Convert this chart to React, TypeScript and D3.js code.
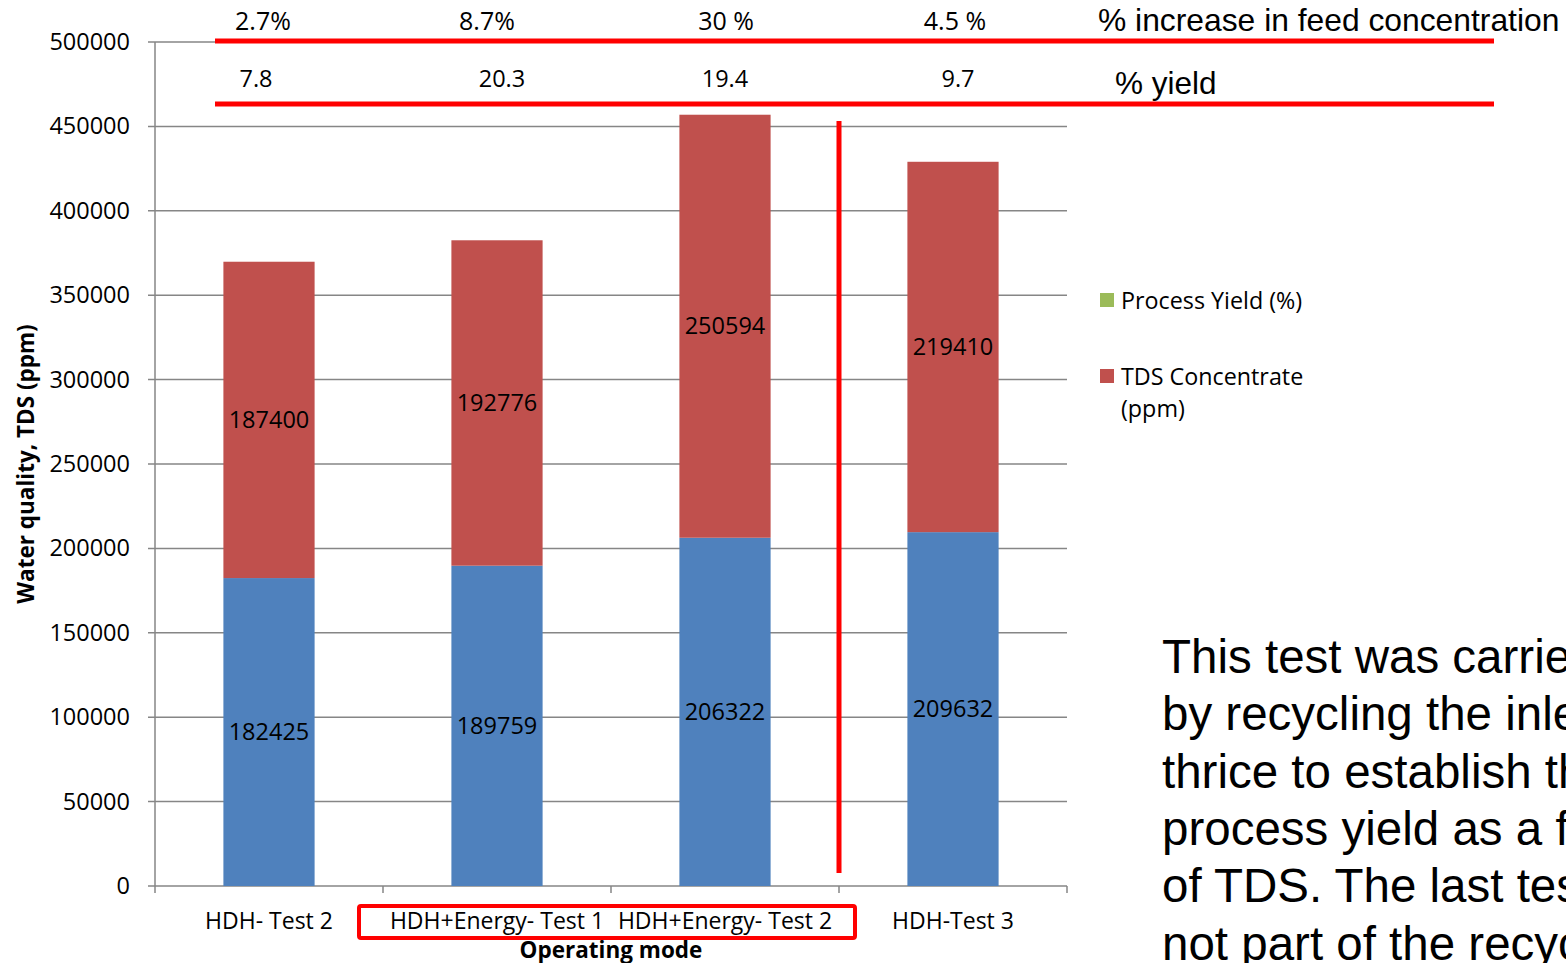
import React from 'react';
import * as d3 from 'd3';

// chart values
const categories = ['HDH- Test 2', 'HDH+Energy- Test 1', 'HDH+Energy- Test 2', 'HDH-Test 3'];
const feedTds = [182425, 189759, 206322, 209632];
const concentrateTds = [187400, 192776, 250594, 219410];
const feedIncrease = ['2.7%', '8.7%', '30 %', '4.5 %'];
const yieldPct = ['7.8', '20.3', '19.4', '9.7'];
const yTicks = [0, 50000, 100000, 150000, 200000, 250000, 300000, 350000, 400000, 450000, 500000];
const noteLines = [
  'This test was carried out',
  'by recycling the inlet water',
  'thrice to establish the',
  'process yield as a function',
  'of TDS. The last test was',
  'not part of the recycle',
];

const W = 1566;
const H = 963;
const plot = { left: 155, right: 1067, top: 42, bottom: 886 };
const font = "'Open Sans', 'Noto Sans', sans-serif";
const arial = "'Liberation Sans', Arial, sans-serif";
const blue = '#4F81BD';
const red = '#C0504D';
const green = '#9BBB59';
const grid = '#868686';
// hand placed annotation nudges (px), as in the slide
const incNudge = [-6, -10, 1, 2];
const yieldNudge = [-13, 5, 0, 5];

export default function App() {
  const x = d3.scaleBand<string>()
    .domain(categories)
    .range([plot.left, plot.right])
    .paddingInner(0.6)
    .paddingOuter(0.3);
  const y = d3.scaleLinear().domain([0, 500000]).range([plot.bottom, plot.top]);
  const step = x.step();
  const mid = (c: string) => (x(c) as number) + x.bandwidth() / 2;

  const rows = categories.map((c, i) => ({
    cat: c,
    feed: feedTds[i],
    conc: concentrateTds[i],
  }));
  const stacked = d3.stack<any>().keys(['feed', 'conc'])(rows);
  const colors = [blue, red];

  // boundaries between categories for the bottom ticks
  const bounds = d3.range(categories.length + 1).map((i) => plot.left + i * step);

  return (
    <svg width={W} height={H} style={{ position: 'absolute', left: 0, top: 0, background: '#fff' }}>
      {/* gridlines */}
      {yTicks.map((t) => (
        <line key={'g' + t} x1={plot.left - 7} x2={plot.right} y1={y(t)} y2={y(t)} stroke={grid} strokeWidth={1.5} />
      ))}
      {yTicks.map((t) => (
        <text key={'t' + t} x={130} y={y(t) + 8} textAnchor="end" fontFamily={font} fontSize={23.5} fill="#000">
          {t}
        </text>
      ))}
      <line x1={plot.left} x2={plot.left} y1={plot.top} y2={plot.bottom} stroke={grid} strokeWidth={1.5} />
      {bounds.map((b, i) => (
        <line key={'b' + i} x1={b} x2={b} y1={plot.bottom} y2={plot.bottom + 7} stroke={grid} strokeWidth={1.5} />
      ))}

      {/* stacked bars */}
      {stacked.map((s, si) =>
        s.map((d, i) => (
          <rect
            key={si + '-' + i}
            x={x(categories[i])}
            y={y(d[1])}
            width={x.bandwidth()}
            height={y(d[0]) - y(d[1])}
            fill={colors[si]}
          />
        ))
      )}
      {stacked.map((s, si) =>
        s.map((d, i) => (
          <text
            key={'l' + si + '-' + i}
            x={mid(categories[i])}
            y={y((d[0] + d[1]) / 2) + 8}
            textAnchor="middle"
            fontFamily={font}
            fontSize={23.5}
            fill="#000"
          >
            {d[1] - d[0]}
          </text>
        ))
      )}

      {/* category labels */}
      {categories.map((c) => (
        <text key={c} x={mid(c)} y={929} textAnchor="middle" fontFamily={font} fontSize={23} fill="#000">
          {c}
        </text>
      ))}
      <text x={(plot.left + plot.right) / 2} y={958} textAnchor="middle" fontFamily={font} fontSize={22.5} fontWeight="bold">
        Operating mode
      </text>
      <text
        transform={`translate(34,${(plot.top + plot.bottom) / 2}) rotate(-90)`}
        textAnchor="middle"
        fontFamily={font}
        fontSize={22.5}
        fontWeight="bold"
      >
        Water quality, TDS (ppm)
      </text>

      {/* legend */}
      <rect x={1100} y={293} width={14} height={14} fill={green} />
      <text x={1121} y={309} fontFamily={font} fontSize={23.3}>Process Yield (%)</text>
      <rect x={1100} y={369} width={14} height={14} fill={red} />
      <text x={1121} y={385} fontFamily={font} fontSize={23.3}>TDS Concentrate</text>
      <text x={1121} y={417} fontFamily={font} fontSize={23.3}>(ppm)</text>

      {/* annotations */}
      {feedIncrease.map((v, i) => (
        <text key={'f' + i} x={mid(categories[i]) + incNudge[i]} y={30} textAnchor="middle" fontFamily={font} fontSize={25}>
          {v}
        </text>
      ))}
      {yieldPct.map((v, i) => (
        <text key={'y' + i} x={mid(categories[i]) + yieldNudge[i]} y={87} textAnchor="middle" fontFamily={font} fontSize={23.5}>
          {v}
        </text>
      ))}
      <line x1={215} x2={1494} y1={41} y2={41} stroke="#FF0000" strokeWidth={5} />
      <line x1={215} x2={1494} y1={104} y2={104} stroke="#FF0000" strokeWidth={5} />
      <text x={1098} y={31} fontFamily={arial} fontSize={31.8}>% increase in feed concentration</text>
      <text x={1115} y={94} fontFamily={arial} fontSize={31.5}>% yield</text>
      <line x1={839} x2={839} y1={121} y2={873} stroke="#FF0000" strokeWidth={5} />
      <rect x={359} y={906} width={496} height={32} fill="none" stroke="#FF0000" strokeWidth={4} rx={2} />

      {noteLines.map((l, i) => (
        <text key={'n' + i} x={1162} y={673 + i * 57.3} fontFamily={arial} fontSize={47.5} fill="#000">
          {l}
        </text>
      ))}
    </svg>
  );
}
